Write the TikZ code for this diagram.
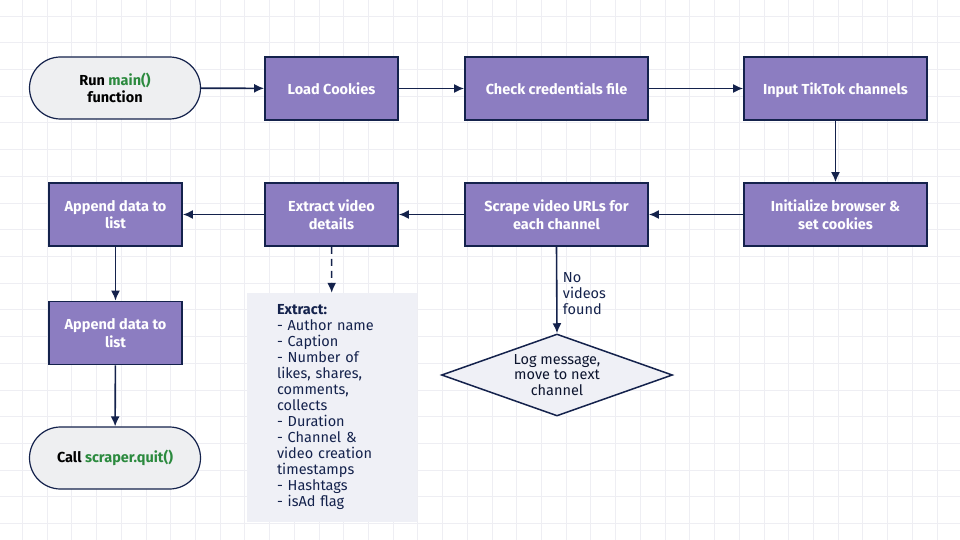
\documentclass[tikz,border=0pt]{standalone}
\usepackage{fontspec}
\setmainfont{Fira Sans}
\usetikzlibrary{shapes.geometric,arrows.meta}
\definecolor{navy}{HTML}{14224C}
\definecolor{purp}{HTML}{8C7DC1}
\definecolor{term}{HTML}{EEEFF1}
\definecolor{notebg}{HTML}{EFF0F6}
\definecolor{gridc}{HTML}{EEEEF3}
\definecolor{codegreen}{HTML}{2B8A3E}
\tikzset{
  procbox/.style={draw=navy, line width=1.8pt, fill=purp, text=white, font=\fontsize{14.5}{17.7}\selectfont\bfseries, align=center, minimum height=63pt, inner sep=2pt},
  termbox/.style={draw=navy, line width=1.2pt, fill=term, text=black, font=\fontsize{14.5}{17.7}\selectfont\bfseries, align=center, rounded corners=31pt, minimum width=171pt, minimum height=62pt},
  notebox/.style={fill=notebg, text=navy, font=\fontsize{14.5}{16}\selectfont, align=left, text width=110pt, inner xsep=30pt, minimum height=229pt},
  decbox/.style={diamond, aspect=2.8, draw=navy, line width=1.5pt, fill=notebg, text=navy!60!black, font=\fontsize{14.5}{15.7}\selectfont, align=center, minimum width=231pt, minimum height=82pt, inner sep=0pt},
  flow/.style={draw=navy, line width=1.6pt, -{Latex[length=10pt,width=9pt]}},
  lbl/.style={text=navy, font=\fontsize{14.5}{16}\selectfont, align=left}
}
\newcommand{\code}[1]{\textcolor{codegreen}{#1}}
\begin{document}
\begin{tikzpicture}[x=1pt,y=-1pt]
\useasboundingbox (0,0) rectangle (960,540);
\fill[white] (0,0) rectangle (960,540);
\foreach \i in {0,...,38} {\draw[gridc, line width=0.8pt] ({22.3+24.72*\i},0) -- ({22.3+24.72*\i},540);}
\foreach \j in {0,...,19} {\draw[gridc, line width=0.8pt] (0,{16+26.71*\j}) -- (960,{16+26.71*\j});}

\node[termbox] (start) at (115,88) {Run \code{main()}\\function};
\node[procbox, minimum width=133pt] (load) at (331.5,88.5) {Load Cookies};
\node[procbox, minimum width=183pt] (check) at (556.5,88.5) {Check credentials file};
\node[procbox, minimum width=183pt] (input) at (835.5,88.5) {\raisebox{0pt}[\height][0pt]{Input TikTok channels}};
\node[procbox, minimum width=183pt] (init) at (835.5,214.5) {Initialize browser \&\\set cookies};
\node[procbox, minimum width=183pt] (scrape) at (556.5,214.5) {Scrape video URLs for\\each channel};
\node[procbox, minimum width=133pt] (extract) at (331.5,214.5) {Extract video\\details};
\node[procbox, minimum width=133pt] (app1) at (115.5,214.5) {Append data to\\list};
\node[procbox, minimum width=133pt] (app2) at (115.5,333) {Append data to\\list};
\node[termbox] (quit) at (115,458) {Call \code{scraper.quit()}};
\node[notebox] (note) at (332,407.5) {\textbf{Extract:}\\- Author name\\- Caption\\- Number of\\likes, shares,\\comments,\\collects\\- Duration\\- Channel \&\\video creation\\timestamps\\- Hashtags\\- isAd flag};
\node[decbox] (dec) at (557,375) {Log message,\\move to next\\channel};

\draw[flow] (start) -- (load);
\draw[flow] (load) -- (check);
\draw[flow] (check) -- (input);
\draw[flow] (input) -- (init);
\draw[flow] (init) -- (scrape);
\draw[flow] (scrape) -- (extract);
\draw[flow] (extract) -- (app1);
\draw[flow] (app1) -- (app2);
\draw[flow] (app2) -- (quit);
\draw[flow, dashed, dash pattern=on 7pt off 5pt] (extract) -- (note);
\draw[flow] (scrape.south) -- node[lbl, right, pos=0.5, xshift=2pt, yshift=-4pt] {No\\videos\\found} (dec.north);
\end{tikzpicture}
\end{document}
